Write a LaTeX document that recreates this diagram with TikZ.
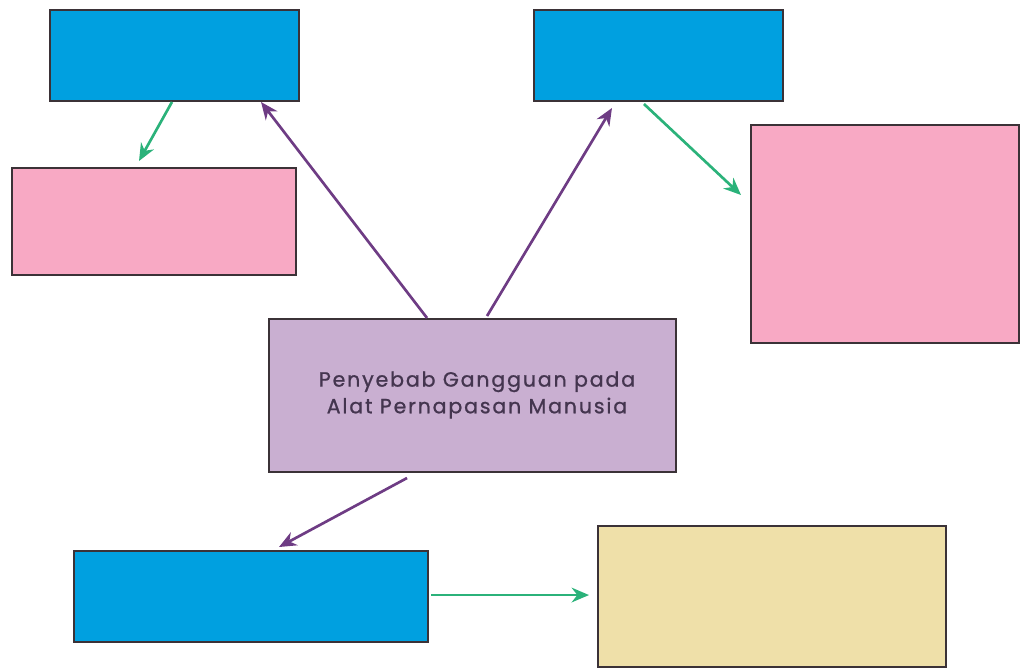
\documentclass[tikz,border=0pt]{standalone}
\usepackage{fontspec}
\setmainfont{Poppins}
\usetikzlibrary{arrows.meta}
\definecolor{boxblue}{HTML}{00A0E0}
\definecolor{boxpink}{HTML}{F8A9C4}
\definecolor{boxlilac}{HTML}{C9AFD1}
\definecolor{boxtan}{HTML}{EFE0A9}
\definecolor{edge}{HTML}{3B3237}
\definecolor{linkgreen}{HTML}{2BB27A}
\definecolor{linkpurple}{HTML}{6E3C84}
\definecolor{textink}{HTML}{44354F}
\tikzset{
  card/.style={draw=edge,line width=1.5pt,inner sep=0pt,rectangle},
  bluecard/.style={card,fill=boxblue},
  pinkcard/.style={card,fill=boxpink},
  linkg/.style={draw=linkgreen,line width=2pt,-{Stealth[length=13pt,width=11pt]}},
  linkp/.style={draw=linkpurple,line width=2pt,-{Stealth[length=13pt,width=11pt]}}
}
\begin{document}
\begin{tikzpicture}[x=0.75pt,y=-0.75pt]
\useasboundingbox (0,0) rectangle (1020,669);
% boxes
\node[bluecard,minimum width=186.75pt,minimum height=68.25pt] (causeL) at (174.5,55.5) {};
\node[pinkcard,minimum width=213pt,minimum height=80.25pt] (effectL) at (154,221.5) {};
\node[bluecard,minimum width=186.75pt,minimum height=68.25pt] (causeR) at (658.5,55.5) {};
\node[pinkcard,minimum width=201pt,minimum height=163.5pt] (effectR) at (885,234) {};
\node[card,fill=boxlilac,minimum width=305.25pt,minimum height=114.75pt] (main) at (472.5,395.5) {};
\node[text=textink,align=center,font=\addfontfeatures{LetterSpace=9,FakeBold=1}\fontsize{15.4}{20}\selectfont] (title) at (477,395) {Penyebab Gangguan pada\\Alat Pernapasan Manusia};
\node[bluecard,minimum width=265.5pt,minimum height=68.25pt] (causeB) at (251,596.5) {};
\node[card,fill=boxtan,minimum width=261pt,minimum height=105.75pt] (effectB) at (772,596.5) {};
% arrows
\draw[linkp] ([xshift=-34.1pt]main.north) -- ([xshift=64.9pt]causeL.south);
\draw[linkp] ([xshift=10.9pt,yshift=1.5pt]main.north) -- ([xshift=-34.9pt,yshift=-4.5pt]causeR.south);
\draw[linkp] ([xshift=-49.1pt,yshift=-3.75pt]main.south) -- ([xshift=21pt,yshift=2.25pt]causeB.north);
\draw[linkg] ([xshift=-1.9pt]causeL.south) -- ([xshift=-11.25pt,yshift=4.5pt]effectL.north);
\draw[linkg] ([xshift=-10.9pt,yshift=-1.5pt]causeR.south) -- ([xshift=-6.75pt,yshift=29.25pt]effectR.west);
\draw[linkg] ([xshift=1.5pt,yshift=1.1pt]causeB.east) -- ([xshift=-6pt,yshift=1.1pt]effectB.west);
\end{tikzpicture}
\end{document}
